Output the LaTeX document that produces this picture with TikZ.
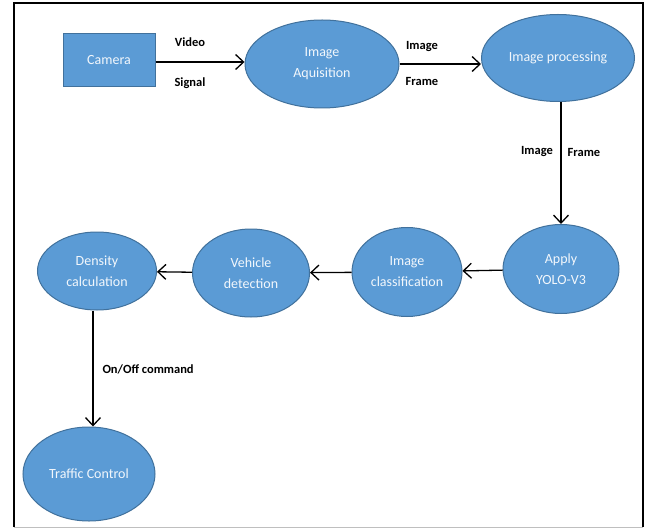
\documentclass[tikz,border=0pt]{standalone}
\usepackage{fontspec}
\setmainfont{Carlito}
\usepackage{tikz}
\usetikzlibrary{shapes.geometric,arrows.meta}
\definecolor{boxblue}{HTML}{5B9BD5}
\definecolor{edgeblue}{HTML}{41719C}
\tikzset{>={Straight Barb[length=8pt,width=15pt]}}
\tikzset{
  blob/.style={ellipse,draw=edgeblue,line width=1pt,fill=boxblue,text=white!92!boxblue,inner sep=0pt,align=center,font=\fontsize{14}{21}\selectfont},
  lbl/.style={font=\fontsize{12.5}{14}\selectfont\bfseries}
}

\begin{document}
\begin{tikzpicture}[x=1pt,y=-1pt]
    \useasboundingbox (0,0) rectangle (652,529);
    \draw[gray!50,line width=1pt] (14,527)--(643,527);
    \draw[line width=2.8pt] (14,527)--(14,3)--(643,3)--(643,527);
    % top row
    \node[draw=edgeblue,line width=1pt,fill=boxblue,text=white!92!boxblue,minimum width=92pt,minimum height=53pt,font=\fontsize{14}{21}\selectfont] at (109,60) (cam) {Camera};
    \node[blob,minimum width=154pt,minimum height=88pt] at (322,64) (acq) {Image\\Aquisition};
    \node[blob,minimum width=153pt,minimum height=87pt] at (558,58) (proc) {Image processing};
    % second row
    \node[blob,minimum width=116pt,minimum height=89pt] at (561,269) (yolo) {Apply\\YOLO-V3};
    \node[blob,minimum width=110pt,minimum height=89pt] at (407,272) (cls) {Image\\classification};
    \node[blob,minimum width=117pt,minimum height=88pt] at (251,273) (veh) {Vehicle\\detection};
    \node[blob,minimum width=119pt,minimum height=78pt] at (97,271) (den) {Density\\calculation};
    \node[blob,minimum width=132pt,minimum height=94pt] at (89,474) (tc) {Traffic Control};
    % connectors
    \draw[->,line width=1.3pt] (cam.east |- 0,62) -- (acq.west |- 0,62);
    \draw[->,line width=1.3pt] (acq) -- (acq -| proc.west);
    \draw[->,line width=1.3pt] (proc.south -| yolo.north) -- (yolo.north);
    \draw[->,line width=1.3pt] (yolo) -- (cls);
    \draw[->,line width=1.3pt] (cls) -- (veh);
    \draw[->,line width=1.3pt] (veh) -- (den);
    \draw[->,line width=1.3pt] (den.south -| 93,0) -- (tc.north -| 93,0);
    % labels
    \node[lbl] at (190,42) (v1) {Video};
    \node[lbl] at (190,83) (v2) {Signal};
    \node[lbl] at (422,47) (f1) {Image};
    \node[lbl] at (422,81) (f2) {Frame};
    \node[lbl] at (537,152) (f3) {Image};
    \node[lbl] at (584,152) (f4) {Frame};
    \node[lbl,anchor=west] at (99,369) (oc) {On/Off command};
\end{tikzpicture}
\end{document}
